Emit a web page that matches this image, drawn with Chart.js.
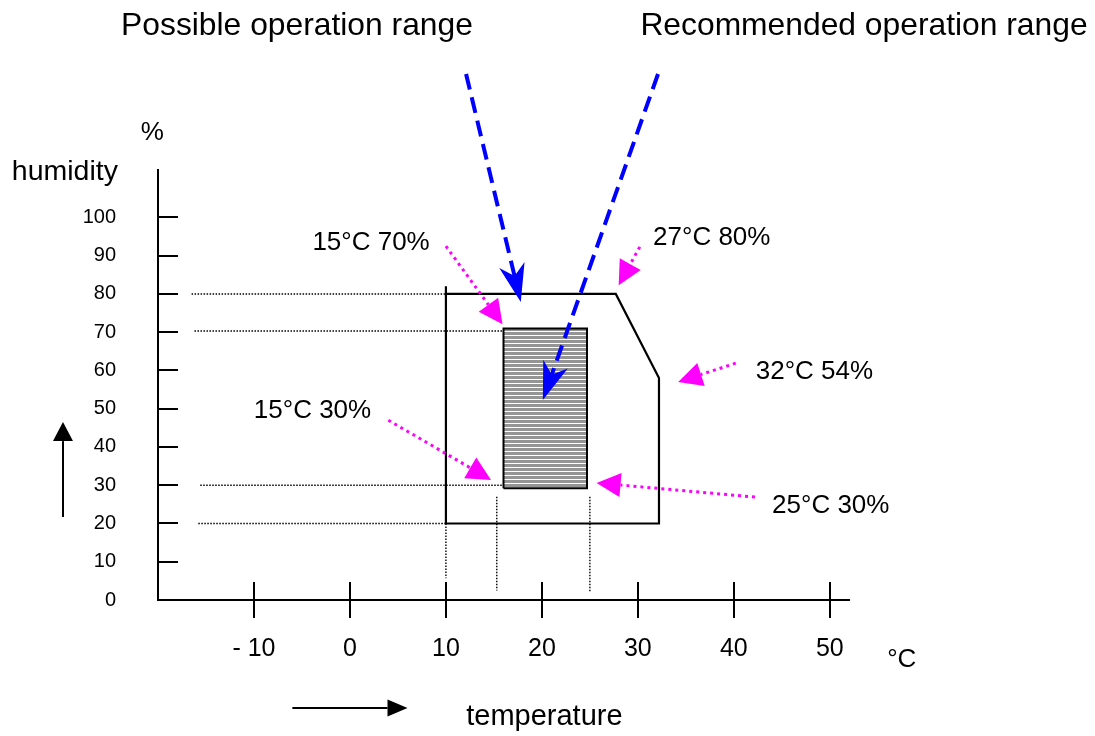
<!DOCTYPE html>
<html>
<head>
<meta charset="utf-8">
<script src="https://cdn.jsdelivr.net/npm/chart.js@4.4.1/dist/chart.umd.min.js"></script>
<style>
  html, body { margin: 0; padding: 0; background: #fff; }
  canvas { display: block; }
</style>
</head>
<body>
<canvas id="chart" width="1095" height="736"></canvas>
<script>
const xTicks = [-10, 0, 10, 20, 30, 40, 50];
const yTicks = [0, 10, 20, 30, 40, 50, 60, 70, 80, 90, 100];

// possible operation range outline (temperature °C / humidity %)
const possibleTemp = [10, 10, 32.2, 32.2, 27.7, 10];
const possibleHum  = [82, 20, 20, 58, 80, 80];

// recommended operation range (hatched box)
const recTemp = [16, 16, 24.7, 24.7, 16];
const recHum  = [29.2, 71, 71, 29.2, 29.2];

// dotted guide lines
const guideHumLevels  = [80, 70.3, 30, 20];
const guideHumFrom    = [-16.5, -16.2, -15.6, -15.8];
const guideHumTo      = [10, 16, 16, 10];
const guideTempLevels = [10, 15.3, 25];
const guideTempTop    = [20, 27, 27];
const guideTempBottom = [5.7, 2.5, 2.2];

// magenta callouts
const calloutText   = ["15°C 70%", "27°C 80%", "32°C 54%", "15°C 30%", "25°C 30%"];
const calloutLabelT = [2.2, 37.7, 48.4, -3.9, 50.1];
const calloutLabelH = [91.4, 92.7, 57.7, 47.5, 22.7];
const calloutFromT  = [10.0, 30.2, 40.2, 4.0, 42.2];
const calloutFromH  = [92.5, 92.3, 61.9, 47.0, 26.9];
const calloutTipT   = [15.9, 28.0, 34.2, 14.7, 25.7];
const calloutTipH   = [72.1, 82.3, 57.0, 31.4, 30.6];

// blue pointers from the range titles
const pointerFromT = [12.1, 32.1];
const pointerFromH = [137.5, 137.5];
const pointerTipT  = [17.8, 20.1];
const pointerTipH  = [77.9, 52.3];

const titles = ["Possible operation range", "Recommended operation range"];

const FONT = "'Liberation Sans', Arial, Helvetica, sans-serif";
Chart.defaults.font.family = FONT;
Chart.defaults.color = "#000";

const pts = (xs, ys) => xs.map((v, i) => ({ x: v, y: ys[i] }));

function hatch() {
  const c = document.createElement("canvas");
  c.width = 4; c.height = 4;
  const g = c.getContext("2d");
  g.fillStyle = "#959595"; g.fillRect(0, 0, 4, 4);
  g.fillStyle = "#ffffff"; g.fillRect(0, 3, 4, 1);
  return g.createPattern(c, "repeat");
}

const dotted = { borderColor: "#000", borderWidth: 1.4, borderDash: [1.5, 1.5],
  pointRadius: 0, showLine: true, fill: false };

const datasets = [];
guideHumLevels.forEach((h, i) => datasets.push({ ...dotted,
  data: pts([guideHumFrom[i], guideHumTo[i]], [h, h]) }));
guideTempLevels.forEach((t, i) => datasets.push({ ...dotted,
  data: pts([t, t], [guideTempTop[i], guideTempBottom[i]]) }));
datasets.push({ data: pts(recTemp, recHum), borderColor: "#000", borderWidth: 2,
  backgroundColor: hatch(), fill: "shape", pointRadius: 0, showLine: true });
datasets.push({ data: pts(possibleTemp, possibleHum), borderColor: "#000", borderWidth: 2.2,
  pointRadius: 0, showLine: true, fill: false });

function arrow(ctx, x0, y0, x1, y1, o) {
  const dx = x1 - x0, dy = y1 - y0, len = Math.hypot(dx, dy);
  const ux = dx / len, uy = dy / len, nx = -uy, ny = ux;
  const bx = x1 - ux * o.len, by = y1 - uy * o.len;
  const back = o.len * (1 - (o.notch || 0));
  const sx = x1 - ux * back, sy = y1 - uy * back;
  ctx.beginPath();
  ctx.setLineDash(o.dash || []);
  ctx.lineWidth = o.width;
  ctx.strokeStyle = o.color;
  ctx.moveTo(x0, y0); ctx.lineTo(sx, sy); ctx.stroke();
  ctx.setLineDash([]);
  ctx.beginPath();
  ctx.moveTo(x1, y1);
  ctx.lineTo(bx + nx * o.half, by + ny * o.half);
  ctx.lineTo(sx, sy);
  ctx.lineTo(bx - nx * o.half, by - ny * o.half);
  ctx.closePath();
  ctx.fillStyle = o.color;
  ctx.fill();
}

const drawings = {
  id: "drawings",
  afterDraw(chart) {
    const { ctx, chartArea: ca } = chart;
    const px = v => chart.scales.x.getPixelForValue(v);
    const py = v => chart.scales.y.getPixelForValue(v);
    ctx.save();

    // tick marks
    ctx.strokeStyle = "#000"; ctx.lineWidth = 2;
    xTicks.forEach(v => {
      const X = Math.round(px(v));
      ctx.beginPath(); ctx.moveTo(X, ca.bottom - 18); ctx.lineTo(X, ca.bottom + 18); ctx.stroke();
    });
    yTicks.filter(v => v > 0).forEach(v => {
      const Y = Math.round(py(v));
      ctx.beginPath(); ctx.moveTo(ca.left, Y); ctx.lineTo(ca.left + 20, Y); ctx.stroke();
    });

    // axis names and direction arrows
    ctx.fillStyle = "#000"; ctx.textAlign = "center"; ctx.textBaseline = "alphabetic";
    ctx.font = "28.5px " + FONT; ctx.fillText("humidity", px(-29.7), py(109.8));
    ctx.font = "26px " + FONT;   ctx.fillText("%", px(-20.6), py(120.2));
    ctx.font = "26px " + FONT;   ctx.fillText("°C", px(57.5), py(-17.5));
    ctx.font = "29px " + FONT;   ctx.fillText("temperature", px(20.26), py(-32.7));
    arrow(ctx, px(-29.9), py(21.7), px(-29.9), py(46.5), { len: 19, half: 10, width: 2, color: "#000" });
    arrow(ctx, px(-6.0), py(-28.2), px(6.0), py(-28.2), { len: 20, half: 8.5, width: 2, color: "#000" });

    // range titles
    ctx.font = "31.8px " + FONT;
    ctx.fillText(titles[0], 297, 35);
    ctx.fillText(titles[1], 864, 35);

    // blue pointers
    pointerFromT.forEach((t, i) => arrow(ctx, px(t), py(pointerFromH[i]),
      px(pointerTipT[i]), py(pointerTipH[i]),
      { len: 38, half: 13, notch: 0.3, width: 4, dash: [16, 8], color: "#0000ff" }));

    // magenta callouts
    ctx.font = "26px " + FONT;
    calloutText.forEach((s, i) => {
      ctx.fillStyle = "#000";
      ctx.fillText(s, px(calloutLabelT[i]), py(calloutLabelH[i]));
      arrow(ctx, px(calloutFromT[i]), py(calloutFromH[i]),
        px(calloutTipT[i]), py(calloutTipH[i]),
        { len: 24, half: 12, width: 3, dash: [3, 4], color: "#ff00ff" });
    });
    ctx.restore();
  }
};

new Chart(document.getElementById("chart"), {
  type: "scatter",
  data: { datasets },
  plugins: [drawings],
  options: {
    responsive: false,
    animation: false,
    layout: { padding: { left: 0, top: 170, right: 246, bottom: 0 } },
    plugins: { legend: { display: false }, tooltip: { enabled: false } },
    scales: {
      x: {
        type: "linear", min: -20, max: 52,
        afterBuildTicks: s => { s.ticks = xTicks.map(v => ({ value: v })); },
        afterFit: s => { s.height = 136; },
        grid: { display: false, drawTicks: false },
        border: { display: true, color: "#000", width: 2 },
        ticks: { autoSkip: false, maxRotation: 0, padding: 34, color: "#000",
          font: { size: 25 }, callback: v => v < 0 ? "- " + Math.abs(v) : String(v) }
      },
      y: {
        type: "linear", min: 0, max: 112.4,
        afterBuildTicks: s => { s.ticks = yTicks.map(v => ({ value: v })); },
        afterFit: s => { s.width = 158; },
        grid: { display: false, drawTicks: false },
        border: { display: true, color: "#000", width: 2 },
        ticks: { autoSkip: false, padding: 42, color: "#000", font: { size: 20 } }
      }
    }
  }
});
</script>
</body>
</html>
